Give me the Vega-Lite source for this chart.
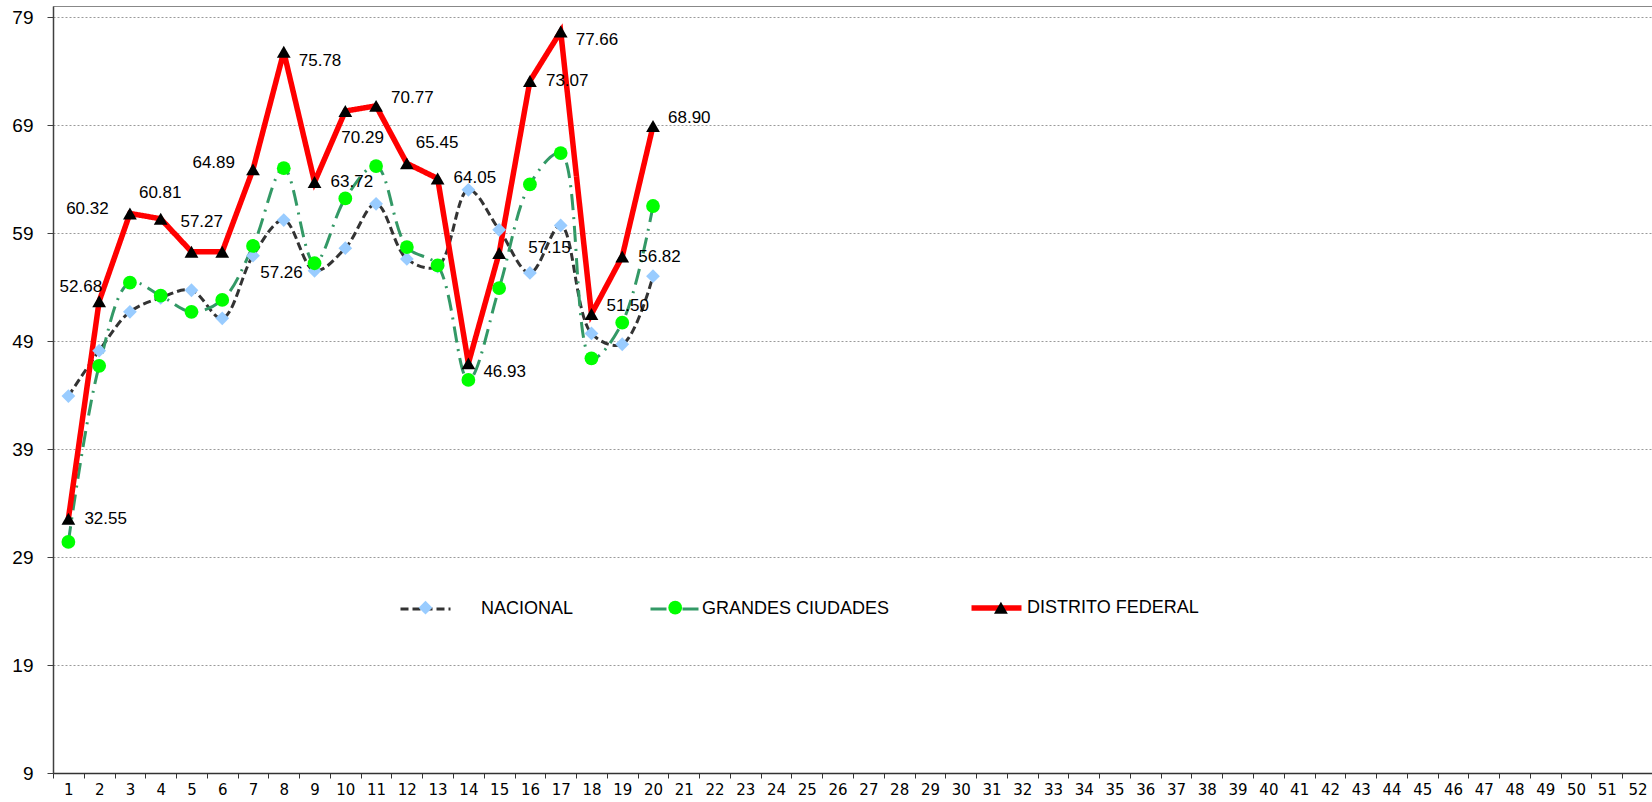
{
  "$schema": "https://vega.github.io/schema/vega-lite/v6.json",
  "width": 1600,
  "height": 767,
  "autosize": {"type": "none"},
  "padding": {"left": 53, "top": 6, "right": 0, "bottom": 29},
  "background": "white",
  "config": {
    "view": {"stroke": "#888888", "strokeWidth": 1},
    "font": "Liberation Sans"
  },
  "data": {
    "values": [
      {"semana": 1, "serie": "NACIONAL", "valor": 43.9},
      {"semana": 2, "serie": "NACIONAL", "valor": 48.1},
      {"semana": 3, "serie": "NACIONAL", "valor": 51.7},
      {"semana": 4, "serie": "NACIONAL", "valor": 53.0},
      {"semana": 5, "serie": "NACIONAL", "valor": 53.7},
      {"semana": 6, "serie": "NACIONAL", "valor": 51.1},
      {"semana": 7, "serie": "NACIONAL", "valor": 56.9},
      {"semana": 8, "serie": "NACIONAL", "valor": 60.2},
      {"semana": 9, "serie": "NACIONAL", "valor": 55.5},
      {"semana": 10, "serie": "NACIONAL", "valor": 57.6},
      {"semana": 11, "serie": "NACIONAL", "valor": 61.7},
      {"semana": 12, "serie": "NACIONAL", "valor": 56.6},
      {"semana": 13, "serie": "NACIONAL", "valor": 55.9},
      {"semana": 14, "serie": "NACIONAL", "valor": 63.0},
      {"semana": 15, "serie": "NACIONAL", "valor": 59.3},
      {"semana": 16, "serie": "NACIONAL", "valor": 55.3},
      {"semana": 17, "serie": "NACIONAL", "valor": 59.7},
      {"semana": 18, "serie": "NACIONAL", "valor": 49.7},
      {"semana": 19, "serie": "NACIONAL", "valor": 48.7},
      {"semana": 20, "serie": "NACIONAL", "valor": 55.0},
      {"semana": 1, "serie": "GRANDES CIUDADES", "valor": 30.4},
      {"semana": 2, "serie": "GRANDES CIUDADES", "valor": 46.7},
      {"semana": 3, "serie": "GRANDES CIUDADES", "valor": 54.4},
      {"semana": 4, "serie": "GRANDES CIUDADES", "valor": 53.2},
      {"semana": 5, "serie": "GRANDES CIUDADES", "valor": 51.7},
      {"semana": 6, "serie": "GRANDES CIUDADES", "valor": 52.8},
      {"semana": 7, "serie": "GRANDES CIUDADES", "valor": 57.8},
      {"semana": 8, "serie": "GRANDES CIUDADES", "valor": 65.0},
      {"semana": 9, "serie": "GRANDES CIUDADES", "valor": 56.2},
      {"semana": 10, "serie": "GRANDES CIUDADES", "valor": 62.2},
      {"semana": 11, "serie": "GRANDES CIUDADES", "valor": 65.2},
      {"semana": 12, "serie": "GRANDES CIUDADES", "valor": 57.7},
      {"semana": 13, "serie": "GRANDES CIUDADES", "valor": 56.0},
      {"semana": 14, "serie": "GRANDES CIUDADES", "valor": 45.4},
      {"semana": 15, "serie": "GRANDES CIUDADES", "valor": 53.9},
      {"semana": 16, "serie": "GRANDES CIUDADES", "valor": 63.5},
      {"semana": 17, "serie": "GRANDES CIUDADES", "valor": 66.4},
      {"semana": 18, "serie": "GRANDES CIUDADES", "valor": 47.4},
      {"semana": 19, "serie": "GRANDES CIUDADES", "valor": 50.7},
      {"semana": 20, "serie": "GRANDES CIUDADES", "valor": 61.5},
      {"semana": 1, "serie": "DISTRITO FEDERAL", "valor": 32.55, "etiqueta": "derecha"},
      {"semana": 2, "serie": "DISTRITO FEDERAL", "valor": 52.68, "etiqueta": "izquierda_arriba"},
      {"semana": 3, "serie": "DISTRITO FEDERAL", "valor": 60.81, "etiqueta": "arriba_derecha"},
      {"semana": 4, "serie": "DISTRITO FEDERAL", "valor": 60.32, "etiqueta": "izquierda_lejos"},
      {"semana": 5, "serie": "DISTRITO FEDERAL", "valor": 57.27, "etiqueta": "arriba_izquierda"},
      {"semana": 6, "serie": "DISTRITO FEDERAL", "valor": 57.26, "etiqueta": "abajo_derecha"},
      {"semana": 7, "serie": "DISTRITO FEDERAL", "valor": 64.89, "etiqueta": "izquierda"},
      {"semana": 8, "serie": "DISTRITO FEDERAL", "valor": 75.78, "etiqueta": "derecha_abajo"},
      {"semana": 9, "serie": "DISTRITO FEDERAL", "valor": 63.72, "etiqueta": "derecha"},
      {"semana": 10, "serie": "DISTRITO FEDERAL", "valor": 70.29, "etiqueta": "abajo"},
      {"semana": 11, "serie": "DISTRITO FEDERAL", "valor": 70.77, "etiqueta": "derecha_arriba"},
      {"semana": 12, "serie": "DISTRITO FEDERAL", "valor": 65.45, "etiqueta": "arriba_derecha"},
      {"semana": 13, "serie": "DISTRITO FEDERAL", "valor": 64.05, "etiqueta": "derecha"},
      {"semana": 14, "serie": "DISTRITO FEDERAL", "valor": 46.93, "etiqueta": "derecha_abajo"},
      {"semana": 15, "serie": "DISTRITO FEDERAL", "valor": 57.15, "etiqueta": "derecha_lejos"},
      {"semana": 16, "serie": "DISTRITO FEDERAL", "valor": 73.07, "etiqueta": "derecha"},
      {"semana": 17, "serie": "DISTRITO FEDERAL", "valor": 77.66, "etiqueta": "derecha_abajo"},
      {"semana": 18, "serie": "DISTRITO FEDERAL", "valor": 51.50, "etiqueta": "derecha_arriba"},
      {"semana": 19, "serie": "DISTRITO FEDERAL", "valor": 56.82, "etiqueta": "derecha"},
      {"semana": 20, "serie": "DISTRITO FEDERAL", "valor": 68.90, "etiqueta": "derecha_arriba"}
    ]
  },
  "encoding": {
    "x": {
      "field": "semana", "type": "quantitative",
      "scale": {"domain": [0.5, 52.5], "nice": false, "zero": false},
      "axis": {
        "title": null,
        "values": [1,2,3,4,5,6,7,8,9,10,11,12,13,14,15,16,17,18,19,20,21,22,23,24,25,26,27,28,29,30,31,32,33,34,35,36,37,38,39,40,41,42,43,44,45,46,47,48,49,50,51,52],
        "tickOffset": -15.385,
        "labelOffset": 15.385,
        "grid": false,
        "domainColor": "#333333", "domainWidth": 1.5,
        "tickColor": "#333333", "tickSize": 5, "tickWidth": 1,
        "labelFont": "DejaVu Sans", "labelFontSize": 15, "labelColor": "#000000",
        "labelPadding": 4, "labelFlush": false, "labelOverlap": false, "labelAngle": 0
      }
    },
    "y": {
      "field": "valor", "type": "quantitative",
      "scale": {"domain": [9, 80.02], "nice": false, "zero": false},
      "axis": {
        "title": null,
        "values": [9, 19, 29, 39, 49, 59, 69, 79],
        "grid": true, "gridColor": "#9a9a9a", "gridDash": [2, 2], "gridWidth": 1,
        "domainColor": "#404040", "domainWidth": 1.5,
        "tickColor": "#404040", "tickSize": 6,
        "labelPadding": 14, "labelFont": "Liberation Sans", "labelFontSize": 19, "labelColor": "#000000"
      }
    }
  },
  "layer": [
    {
      "transform": [{"filter": "datum.serie !== 'DISTRITO FEDERAL'"}],
      "mark": {"type": "line", "interpolate": "catmull-rom", "strokeWidth": 3},
      "encoding": {
        "stroke": {"field": "serie", "type": "nominal",
          "scale": {"domain": ["NACIONAL", "GRANDES CIUDADES", "DISTRITO FEDERAL"], "range": ["#333333", "#339966", "#FF0000"]},
          "legend": {"title": null, "orient": "none", "legendX": 346, "legendY": 575.2, "direction": "horizontal", "symbolType": "stroke", "symbolSize": 2500, "symbolStrokeWidth": 3, "symbolOffset": 0, "labelOffset": 4, "columnPadding": 70, "labelFont": "Liberation Sans", "labelFontSize": 18, "labelColor": "#000000", "labelLimit": 0, "padding": 0,
            "encode": {
              "symbols": {"update": {"strokeWidth": {"signal": "(datum.value === 'DISTRITO FEDERAL' ? 5.5 : 3)"}}},
              "labels": {"update": {"dx": {"signal": "(datum.value === 'NACIONAL' ? 25 : datum.value === 'GRANDES CIUDADES' ? -4 : 0)"}}}
            }}},
        "strokeDash": {"field": "serie", "type": "nominal",
          "scale": {"domain": ["NACIONAL", "GRANDES CIUDADES", "DISTRITO FEDERAL"], "range": [[8, 4], [16, 7, 2, 7], [1, 0]]},
          "legend": {"title": null, "orient": "none", "legendX": 346, "legendY": 575.2, "direction": "horizontal", "symbolType": "stroke", "symbolSize": 2500, "symbolStrokeWidth": 3, "symbolOffset": 0, "labelOffset": 4, "columnPadding": 70, "labelFont": "Liberation Sans", "labelFontSize": 18, "labelColor": "#000000", "labelLimit": 0, "padding": 0,
            "encode": {
              "symbols": {"update": {"strokeWidth": {"signal": "(datum.value === 'DISTRITO FEDERAL' ? 5.5 : 3)"}}},
              "labels": {"update": {"dx": {"signal": "(datum.value === 'NACIONAL' ? 25 : datum.value === 'GRANDES CIUDADES' ? -4 : 0)"}}}
            }}}
      }
    },
    {
      "transform": [{"filter": "datum.serie === 'DISTRITO FEDERAL'"}],
      "mark": {"type": "line", "interpolate": "linear", "strokeWidth": 5.5},
      "encoding": {
        "stroke": {"field": "serie", "type": "nominal"},
        "strokeDash": {"field": "serie", "type": "nominal"}
      }
    },
    {
      "mark": {"type": "point", "filled": true, "size": 190, "opacity": 1, "strokeWidth": 0},
      "encoding": {
        "fill": {"field": "serie", "type": "nominal",
          "scale": {"range": ["#000000", "#00FF00", "#99CCFF"]},
          "legend": {"title": null, "values": ["NACIONAL", "GRANDES CIUDADES", "DISTRITO FEDERAL"], "orient": "none", "legendX": 346, "legendY": 592.7, "direction": "horizontal", "symbolSize": 190, "symbolOffset": 17.5, "labelOffset": 39, "columnPadding": 82.7, "labelFont": "Liberation Sans", "labelFontSize": 18, "labelOpacity": 0, "labelLimit": 172, "padding": 0, "symbolStrokeWidth": 0}},
        "shape": {"field": "serie", "type": "nominal",
          "scale": {"range": ["triangle-up", "circle", "diamond"]},
          "legend": {"title": null, "values": ["NACIONAL", "GRANDES CIUDADES", "DISTRITO FEDERAL"], "orient": "none", "legendX": 346, "legendY": 592.7, "direction": "horizontal", "symbolSize": 190, "symbolOffset": 17.5, "labelOffset": 39, "columnPadding": 82.7, "labelFont": "Liberation Sans", "labelFontSize": 18, "labelOpacity": 0, "labelLimit": 172, "padding": 0, "symbolStrokeWidth": 0}}
      }
    },
    {"transform": [{"filter": "datum.etiqueta === 'derecha'"}], "mark": {"type": "text", "align": "left", "baseline": "middle", "dx": 16, "dy": 0, "font": "Liberation Sans", "fontSize": 17, "color": "#000000"}, "encoding": {"text": {"field": "valor", "type": "quantitative", "format": ".2f"}}},
    {"transform": [{"filter": "datum.etiqueta === 'derecha_lejos'"}], "mark": {"type": "text", "align": "left", "baseline": "middle", "dx": 29, "dy": -5, "font": "Liberation Sans", "fontSize": 17, "color": "#000000"}, "encoding": {"text": {"field": "valor", "type": "quantitative", "format": ".2f"}}},
    {"transform": [{"filter": "datum.etiqueta === 'derecha_abajo'"}], "mark": {"type": "text", "align": "left", "baseline": "middle", "dx": 15, "dy": 9, "font": "Liberation Sans", "fontSize": 17, "color": "#000000"}, "encoding": {"text": {"field": "valor", "type": "quantitative", "format": ".2f"}}},
    {"transform": [{"filter": "datum.etiqueta === 'derecha_arriba'"}], "mark": {"type": "text", "align": "left", "baseline": "middle", "dx": 15, "dy": -8, "font": "Liberation Sans", "fontSize": 17, "color": "#000000"}, "encoding": {"text": {"field": "valor", "type": "quantitative", "format": ".2f"}}},
    {"transform": [{"filter": "datum.etiqueta === 'arriba_derecha'"}], "mark": {"type": "text", "align": "left", "baseline": "middle", "dx": 9, "dy": -20, "font": "Liberation Sans", "fontSize": 17, "color": "#000000"}, "encoding": {"text": {"field": "valor", "type": "quantitative", "format": ".2f"}}},
    {"transform": [{"filter": "datum.etiqueta === 'arriba_izquierda'"}], "mark": {"type": "text", "align": "left", "baseline": "middle", "dx": -11, "dy": -30, "font": "Liberation Sans", "fontSize": 17, "color": "#000000"}, "encoding": {"text": {"field": "valor", "type": "quantitative", "format": ".2f"}}},
    {"transform": [{"filter": "datum.etiqueta === 'izquierda'"}], "mark": {"type": "text", "align": "right", "baseline": "middle", "dx": -18, "dy": -6, "font": "Liberation Sans", "fontSize": 17, "color": "#000000"}, "encoding": {"text": {"field": "valor", "type": "quantitative", "format": ".2f"}}},
    {"transform": [{"filter": "datum.etiqueta === 'izquierda_arriba'"}], "mark": {"type": "text", "align": "right", "baseline": "middle", "dx": 3, "dy": -14, "font": "Liberation Sans", "fontSize": 17, "color": "#000000"}, "encoding": {"text": {"field": "valor", "type": "quantitative", "format": ".2f"}}},
    {"transform": [{"filter": "datum.etiqueta === 'izquierda_lejos'"}], "mark": {"type": "text", "align": "right", "baseline": "middle", "dx": -52, "dy": -10, "font": "Liberation Sans", "fontSize": 17, "color": "#000000"}, "encoding": {"text": {"field": "valor", "type": "quantitative", "format": ".2f"}}},
    {"transform": [{"filter": "datum.etiqueta === 'abajo'"}], "mark": {"type": "text", "align": "left", "baseline": "middle", "dx": -4, "dy": 27, "font": "Liberation Sans", "fontSize": 17, "color": "#000000"}, "encoding": {"text": {"field": "valor", "type": "quantitative", "format": ".2f"}}},
    {"transform": [{"filter": "datum.etiqueta === 'abajo_derecha'"}], "mark": {"type": "text", "align": "left", "baseline": "middle", "dx": 38, "dy": 21, "font": "Liberation Sans", "fontSize": 17, "color": "#000000"}, "encoding": {"text": {"field": "valor", "type": "quantitative", "format": ".2f"}}}
  ]
}
